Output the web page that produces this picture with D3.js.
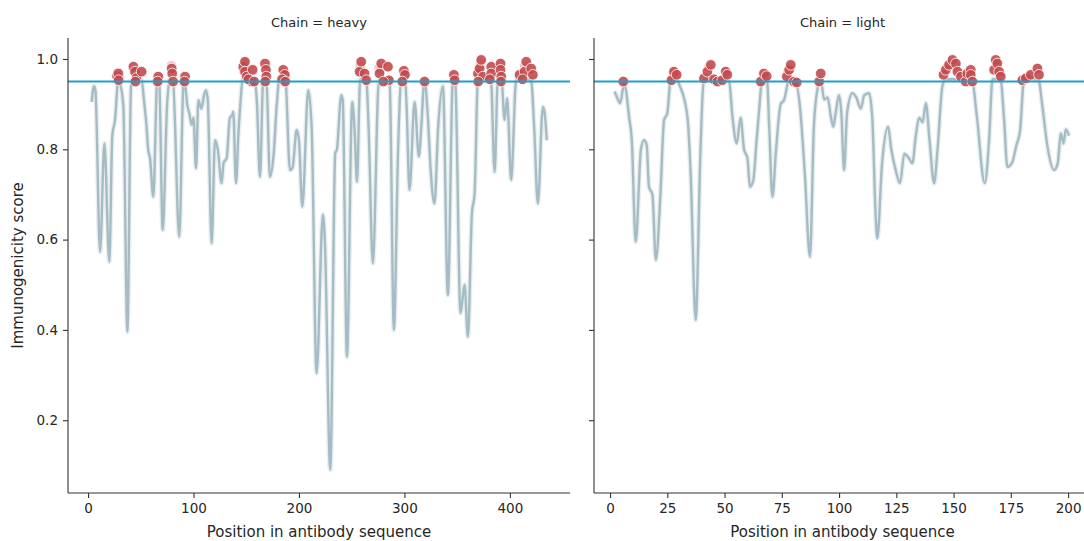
<!DOCTYPE html>
<html>
<head>
<meta charset="utf-8">
<script src="https://cdn.jsdelivr.net/npm/d3@7"></script>
<style>
  body { margin: 0; background: #fff; }
  text { font-family: "DejaVu Sans", sans-serif; fill: #262626; }
  .axis path, .axis line { stroke: #333; stroke-width: 1.1; }
  .axis text { font-size: 13.5px; fill: #262626; }
</style>
</head>
<body>
<svg id="chart" width="1084" height="541"></svg>
<script>
// Immunogenicity score along the heavy and light antibody chains,
// one facet per chain. Red dots mark positions scoring above the 0.95 cut-off.

const THRESHOLD = 0.95;
const Y_TICKS = [0.2, 0.4, 0.6, 0.8, 1.0];
const HEAVY_TICKS = [0, 100, 200, 300, 400];
const LIGHT_TICKS = [0, 25, 50, 75, 100, 125, 150, 175, 200];

// [position, score]
const heavyScores = [
  [3.5,0.905],[5.7,0.94],[7,0.93],[11.4,0.573],[15.5,0.813],[20.2,0.551],[23,0.83],[25.6,0.865],
  [28.7,0.955],[31,0.94],[33.5,0.894],[37.3,0.396],[40.8,0.939],[43,0.955],[46,0.955],[50.8,0.955],
  [53,0.909],[55.5,0.85],[57,0.8],[58.8,0.78],[61.9,0.695],[65.7,0.955],[67.5,0.95],[70.8,0.621],
  [75,0.9],[77.7,0.955],[80.5,0.95],[86.5,0.606],[90.3,0.94],[91.3,0.955],[94.1,0.898],[96,0.88],
  [98.3,0.854],[100,0.87],[102.4,0.758],[104.6,0.909],[107.5,0.89],[110,0.92],[111.8,0.931],[113.5,0.91],
  [117.2,0.592],[120.4,0.82],[123,0.8],[126.7,0.725],[128.5,0.77],[131.4,0.78],[134.5,0.87],[136.5,0.875],
  [137.7,0.883],[140.3,0.725],[142.5,0.83],[144.7,0.909],[146.6,0.955],[150,0.955],[153,0.95],[155,0.955],
  [158,0.95],[160,0.91],[163,0.739],[166.2,0.955],[169,0.955],[172.5,0.739],[176,0.79],[179,0.9],
  [181.4,0.955],[184,0.955],[187,0.955],[191.5,0.754],[194,0.76],[197.8,0.843],[200,0.82],[203.2,0.673],
  [208.8,0.931],[212,0.85],[216.7,0.304],[222.7,0.655],[224.5,0.6],[229.7,0.09],[234.4,0.791],[236,0.8],
  [240.1,0.92],[241.5,0.91],[245.5,0.34],[250.5,0.905],[253,0.83],[255,0.728],[258.1,0.955],[262,0.955],
  [264,0.95],[266,0.85],[270.1,0.547],[275.8,0.955],[280,0.95],[284.4,0.955],[286,0.95],[290,0.4],
  [294,0.8],[297,0.955],[300.5,0.955],[302,0.9],[304.8,0.71],[309.6,0.905],[313.7,0.784],[316,0.85],
  [319,0.955],[322,0.88],[325,0.75],[328.5,0.68],[332,0.85],[336.5,0.94],[341.2,0.477],[346,0.955],
  [348,0.955],[353.2,0.437],[357,0.5],[360.2,0.385],[364,0.658],[366.5,0.7],[369.7,0.955],[374,0.955],
  [378,0.95],[382,0.955],[385.5,0.75],[388.6,0.955],[392,0.955],[395,0.865],[397.4,0.913],[401.2,0.732],
  [406,0.955],[410,0.955],[415,0.955],[420,0.955],[423,0.85],[426.5,0.68],[431.3,0.894],[433,0.88],[435,0.82]
];

const lightScores = [
  [2,0.928],[3.5,0.91],[4.4,0.902],[5.5,0.93],[6.1,0.946],[7,0.93],[8.3,0.872],[9.5,0.82],[11.2,0.595],
  [13.5,0.8],[14.8,0.82],[16,0.81],[17,0.717],[18.5,0.7],[20,0.555],[22,0.7],[23.6,0.865],[25,0.88],
  [26.5,0.955],[29,0.955],[30.5,0.94],[32.3,0.913],[34,0.86],[35.2,0.747],[37.4,0.422],[39.5,0.8],
  [41,0.955],[44,0.955],[47,0.95],[50,0.955],[52,0.95],[53.5,0.87],[55.3,0.813],[57,0.87],[58.5,0.8],
  [60,0.78],[61.1,0.717],[62.5,0.73],[64,0.82],[65.1,0.887],[66.5,0.955],[68.5,0.955],[69.5,0.85],
  [70.9,0.695],[72.5,0.8],[74.5,0.9],[76,0.909],[78.2,0.955],[80.5,0.955],[83,0.89],[85,0.75],[87.3,0.562],
  [89,0.85],[90.5,0.931],[92,0.955],[93.5,0.91],[95,0.915],[96.5,0.87],[97.5,0.85],[98.5,0.88],[100,0.92],
  [101,0.88],[102.2,0.754],[103.5,0.88],[105.8,0.924],[107.5,0.915],[109.5,0.89],[111,0.92],[113.1,0.924],
  [114.5,0.87],[116,0.65],[116.7,0.603],[118.8,0.77],[121.4,0.85],[122.8,0.8],[124.7,0.754],[126.6,0.725],
  [128.5,0.79],[130.5,0.78],[132,0.769],[133.5,0.83],[135,0.87],[136.5,0.86],[137.9,0.902],[139.5,0.82],
  [141.5,0.725],[143,0.8],[145.1,0.939],[146.5,0.955],[150,0.955],[154,0.95],[156,0.955],[158,0.955],
  [160,0.88],[163.6,0.725],[165.5,0.82],[167,0.955],[169,0.955],[170.5,0.955],[172,0.87],[173.5,0.761],
  [175.5,0.77],[177.5,0.81],[179,0.84],[180.8,0.955],[183,0.955],[185,0.955],[187,0.955],[188.8,0.894],
  [191,0.806],[193.9,0.754],[195.5,0.77],[196.8,0.835],[198,0.813],[199,0.844],[200.4,0.83]
];

// individual hits above the cut-off
const heavyHits = [
  [27.5,0.962],[28.7,0.968],[29,0.953],[43,0.983],[44.5,0.972],[46,0.958],[50.8,0.972],[45,0.95],
  [66.6,0.961],[66,0.95],[79.3,0.979],[79.8,0.968],[80.6,0.95],[92,0.961],[91.5,0.95],[147.2,0.983],
  [148.8,0.994],[148.8,0.972],[150.4,0.961],[156.1,0.976],[155,0.95],[152,0.955],[157.5,0.95],[167.8,0.99],
  [168.7,0.976],[169,0.961],[168,0.95],[185.1,0.976],[186.6,0.965],[184,0.955],[187,0.95],[257.5,0.972],
  [259,0.994],[262.2,0.968],[263.8,0.953],[276.4,0.968],[278,0.99],[284.4,0.983],[285.3,0.953],[280,0.95],
  [299.5,0.974],[300.5,0.965],[298,0.95],[319.1,0.95],[346.9,0.965],[347.6,0.953],[369.7,0.968],[371.3,0.979],
  [372.8,0.998],[374.4,0.961],[370,0.95],[382.3,0.983],[382.3,0.968],[381,0.955],[391.1,0.99],[391.1,0.976],
  [391.8,0.961],[391.5,0.95],[409.2,0.965],[413.9,0.972],[415.5,0.994],[420.2,0.979],[421.8,0.965],[412,0.955]
];
const heavyHitsFaint = [
  [28,0.97],[30,0.958],[44,0.975],[46.5,0.962],[79,0.985],[148,0.99],[147.5,0.975],[150,0.965],
  [258,0.985],[259,0.975],[276,0.98],[277.5,0.975],[372,0.99],[370.5,0.975],[414,0.985],[409.5,0.96]
];

const lightHits = [
  [5.8,0.95],[26.8,0.953],[27.9,0.972],[29.1,0.965],[41,0.957],[42.5,0.972],[44,0.987],[45.4,0.955],
  [46.9,0.95],[49,0.953],[50.5,0.972],[51.2,0.965],[65.8,0.95],[67.2,0.968],[68.4,0.962],[77.2,0.961],
  [78.2,0.976],[78.9,0.987],[80.3,0.95],[81.5,0.948],[91.3,0.95],[92,0.968],[145.6,0.965],[146.6,0.976],
  [148,0.987],[149.5,0.998],[151,0.99],[151.7,0.972],[153.2,0.961],[155.3,0.95],[156,0.968],[157.5,0.976],
  [157.5,0.965],[158.2,0.95],[167.7,0.976],[168.4,0.998],[169.1,0.99],[169.9,0.972],[170.6,0.961],
  [180,0.953],[181.5,0.957],[183.7,0.965],[186.6,0.979],[187.3,0.965]
];
const lightHitsFaint = [
  [28.5,0.968],[43,0.98],[77.5,0.97],[147,0.98],[150,0.985],[180.5,0.955],[182.5,0.96]
];

const panels = [
  {title: "Chain = heavy", scores: heavyScores, hits: heavyHits, faint: heavyHitsFaint,
   domain: [-19, 457], ticks: HEAVY_TICKS, left: 68, right: 570, yLabels: true},
  {title: "Chain = light", scores: lightScores, hits: lightHits, faint: lightHitsFaint,
   domain: [-7, 210], ticks: LIGHT_TICKS, left: 594, right: 1091, yLabels: false}
];

const plotTop = 38, plotBottom = 493;
const svg = d3.select("#chart");

const y = d3.scaleLinear()
    .domain([0.0388, 1.0465])
    .range([plotBottom, plotTop]);

const LINE_COLOR = "#a6bcc4";
const HIT_COLOR = "#c24a4e";
const CUTOFF_COLOR = "#1f9fc9";

panels.forEach(p => {
    const x = d3.scaleLinear().domain(p.domain).range([p.left, p.right]);
    const g = svg.append("g");

    const clipId = "clip-" + p.left;
    svg.append("clipPath").attr("id", clipId)
        .append("rect")
        .attr("x", p.left).attr("y", 0)
        .attr("width", p.right - p.left).attr("height", plotBottom);

    const plot = g.append("g").attr("clip-path", `url(#${clipId})`);

    const line = d3.line()
        .x(d => x(d[0]))
        .y(d => y(d[1]))
        .curve(d3.curveMonotoneX);

    // soft halo standing in for the confidence band
    plot.append("path")
        .datum(p.scores)
        .attr("fill", "none")
        .attr("stroke", LINE_COLOR)
        .attr("stroke-opacity", 0.25)
        .attr("stroke-width", 5)
        .attr("stroke-linejoin", "round")
        .attr("d", line);

    plot.append("path")
        .datum(p.scores)
        .attr("fill", "none")
        .attr("stroke", LINE_COLOR)
        .attr("stroke-width", 2.4)
        .attr("stroke-linejoin", "round")
        .attr("d", line);

    plot.selectAll(".faint")
        .data(p.faint)
        .enter().append("circle")
        .attr("cx", d => x(d[0]))
        .attr("cy", d => y(d[1]))
        .attr("r", 5.3)
        .attr("fill", HIT_COLOR)
        .attr("fill-opacity", 0.3)
        .attr("stroke", "#fff")
        .attr("stroke-width", 0.8);

    plot.selectAll(".hit")
        .data(p.hits)
        .enter().append("circle")
        .attr("cx", d => x(d[0]))
        .attr("cy", d => y(d[1]))
        .attr("r", 5.3)
        .attr("fill", HIT_COLOR)
        .attr("fill-opacity", 0.9)
        .attr("stroke", "#fff")
        .attr("stroke-width", 0.8);

    plot.append("line")
        .attr("x1", p.left).attr("x2", p.right)
        .attr("y1", y(THRESHOLD)).attr("y2", y(THRESHOLD))
        .attr("stroke", CUTOFF_COLOR)
        .attr("stroke-width", 2);

    g.append("g")
        .attr("class", "axis")
        .attr("transform", `translate(0,${plotBottom})`)
        .call(d3.axisBottom(x).tickValues(p.ticks).tickSize(5).tickPadding(5).tickSizeOuter(0))
        .call(a => a.select(".domain").attr("d", `M${p.left},0H${p.right}`));

    const yAxis = d3.axisLeft(y).tickValues(Y_TICKS).tickSize(5).tickPadding(5).tickSizeOuter(0)
        .tickFormat(p.yLabels ? d3.format(".1f") : "");
    g.append("g")
        .attr("class", "axis")
        .attr("transform", `translate(${p.left},0)`)
        .call(yAxis)
        .call(a => a.select(".domain").attr("d", `M0,${plotTop}V${plotBottom}`));

    const mid = (p.left + p.right) / 2;

    g.append("text")
        .attr("x", mid)
        .attr("y", 27)
        .attr("text-anchor", "middle")
        .attr("font-size", 13)
        .text(p.title);

    g.append("text")
        .attr("x", mid)
        .attr("y", 537)
        .attr("text-anchor", "middle")
        .attr("font-size", 15)
        .text("Position in antibody sequence");
});

svg.append("text")
    .attr("transform", `translate(23,${(plotTop + plotBottom) / 2}) rotate(-90)`)
    .attr("text-anchor", "middle")
    .attr("font-size", 15)
    .text("Immunogenicity score");
</script>
</body>
</html>
